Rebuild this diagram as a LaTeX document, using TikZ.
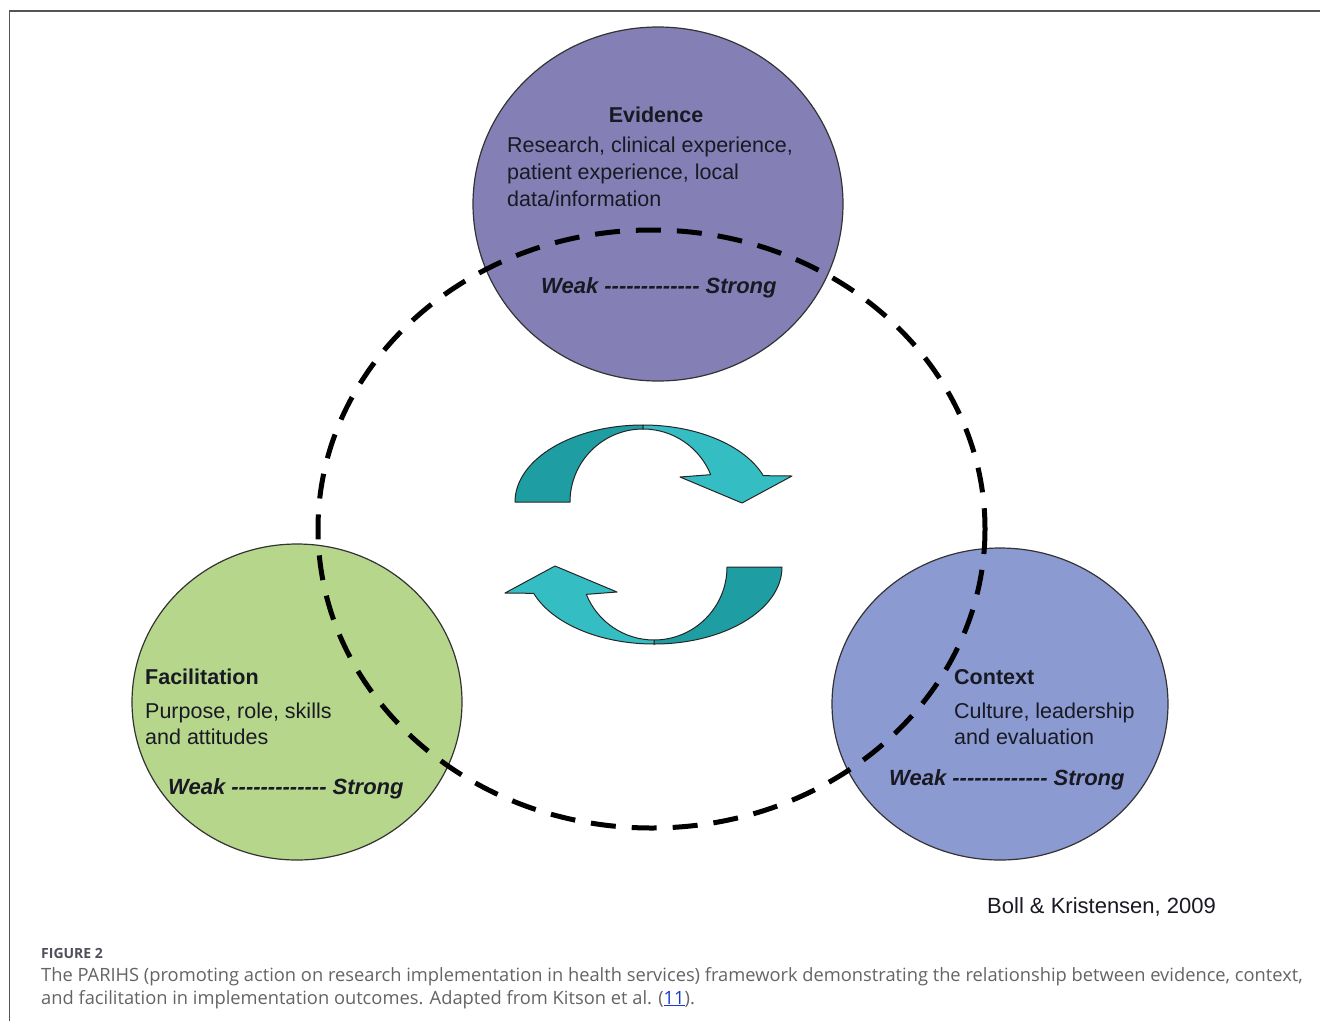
\documentclass[tikz,border=0pt]{standalone}
\usepackage{fontspec}
\setmainfont{Liberation Sans}
\newfontfamily\capfont{Open Sans}
\definecolor{evc}{RGB}{132,128,182}
\definecolor{fac}{RGB}{182,214,140}
\definecolor{coc}{RGB}{139,155,209}
\definecolor{tealD}{RGB}{30,158,163}
\definecolor{tealL}{RGB}{52,190,195}
\definecolor{framec}{RGB}{85,85,85}
\definecolor{txt}{RGB}{25,25,35}
\definecolor{capc}{RGB}{100,100,100}
\definecolor{figc}{RGB}{80,80,90}
\definecolor{linkc}{RGB}{20,60,200}
\newcommand\hyph{\mbox{-}}
\newcommand\dl{\hyph\hyph\hyph\hyph\hyph\hyph\hyph\hyph\hyph\hyph\hyph\hyph\hyph}
\begin{document}
\begin{tikzpicture}[x=1pt,y=-1pt,
  lbl/.style={inner sep=0pt, text=txt, font=\fontsize{21.5}{26}\selectfont},
  ttl/.style={inner sep=0pt, text=txt, font=\fontsize{21.5}{26}\selectfont\bfseries},
  ws/.style={inner sep=0pt, text=txt, font=\fontsize{22}{26}\selectfont\bfseries\itshape},
  captxt/.style={inner sep=0pt, text=capc, font=\capfont\fontsize{18.3}{24}\selectfont},
  circ/.style={draw=black!80, line width=1.2pt},
  arrL/.style={fill=tealD, draw=black!85, line width=1pt, line join=round},
  arrR/.style={fill=tealL, draw=black!85, line width=1pt, line join=round},
  ring/.style={line width=5pt, dash pattern=on 25pt off 16pt},
  cyc/.pic={
    \draw[arrL] (-128,0) arc[start angle=180, end angle=270, x radius=128, y radius=77]
      -- (0,-73) arc[start angle=270, end angle=180, radius=73] -- cycle;
    \draw[arrR] (0,-77) arc[start angle=270, end angle=340, x radius=128, y radius=77]
      -- (149,-26) -- (99,1) -- (37,-25) -- (338:73)
      arc[start angle=338, end angle=270, radius=73] -- cycle;
  }]
\useasboundingbox (0,0) rectangle (1320,1021);
\fill[white] (0,0) rectangle (1320,1021);
\draw[framec, line width=1.5pt] (9.5,1021) -- (9.5,11) -- (1320,11);

% circles
\coordinate (cev) at (658,204);
\coordinate (cfa) at (297,702);
\coordinate (cco) at (1000,704);
\coordinate (cring) at (651.5,529);
\draw[circ, fill=evc] (cev) ellipse[x radius=185, y radius=177];
\draw[circ, fill=fac] (cfa) ellipse[x radius=165, y radius=158];
\draw[circ, fill=coc] (cco) ellipse[x radius=168, y radius=156];

% dashed ring
\draw[ring] (cring) ellipse[x radius=333.5, y radius=299];

% cycle arrows
\pic at (643,502) {cyc};
\pic[rotate=180] at (654,567) {cyc};

% Evidence texts
\node[ttl, anchor=base] (evt) at (656,122) {Evidence};
\node[lbl, anchor=base west] (ev1) at (507,152) {Research, clinical experience,};
\node[lbl, anchor=base west] (ev2) at (507,179) {patient experience, local};
\node[lbl, anchor=base west] (ev3) at (507,206) {data/information};
\node[ws, anchor=base west] (evw) at (541,293) {Weak \dl{} Strong};

% Facilitation texts
\node[ttl, anchor=base west] (fat) at (145,684) {Facilitation};
\node[lbl, anchor=base west] (fa1) at (145,718) {Purpose, role, skills};
\node[lbl, anchor=base west] (fa2) at (145,744) {and attitudes};
\node[ws, anchor=base west] (faw) at (168,794) {Weak \dl{} Strong};

% Context texts
\node[ttl, anchor=base west] (cot) at (954,684) {Context};
\node[lbl, anchor=base west] (co1) at (954,718) {Culture, leadership};
\node[lbl, anchor=base west] (co2) at (954,744) {and evaluation};
\node[ws, anchor=base west] (cow) at (889,785) {Weak \dl{} Strong};

% source
\node[lbl, font=\fontsize{22}{26}\selectfont, anchor=base west] (src) at (987,913) {Boll \& Kristensen, 2009};

% caption
\node[captxt, text=figc, font=\capfont\fontsize{14}{16}\selectfont\bfseries, anchor=base west] (fig) at (41,958) {FIGURE 2};
\node[captxt, anchor=base west] (cap1) at (41,981) {The PARIHS (promoting action on research implementation in health services) framework demonstrating the relationship between evidence, context,};
\node[captxt, anchor=base west] (cap2) at (41,1004) {and facilitation in implementation outcomes. Adapted from Kitson et al. ({\color{linkc}\underline{11}}).};
\end{tikzpicture}
\end{document}
